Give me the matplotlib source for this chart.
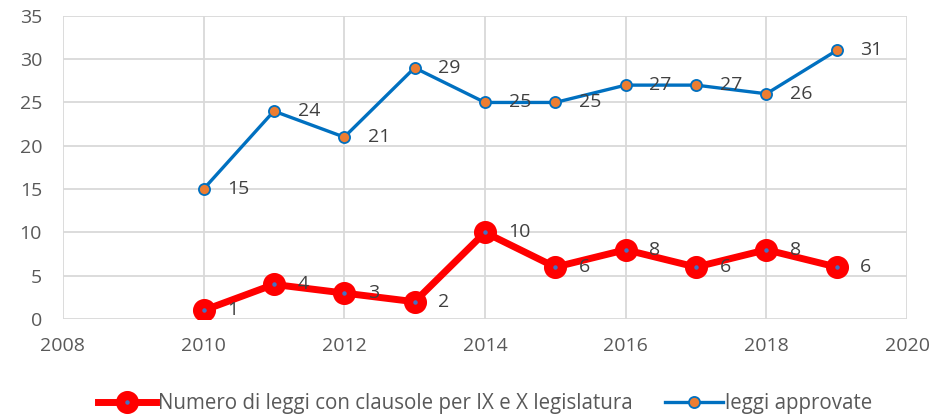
import matplotlib.pyplot as plt

years = [2010, 2011, 2012, 2013, 2014, 2015, 2016, 2017, 2018, 2019]
clausole = [1, 4, 3, 2, 10, 6, 8, 6, 8, 6]
approvate = [15, 24, 21, 29, 25, 25, 27, 27, 26, 31]

plt.rcParams['font.family'] = ['Open Sans', 'DejaVu Sans']
txt = '#404040'

fig = plt.figure(figsize=(9.38, 4.16), dpi=100)
ax = fig.add_axes([0.067, 0.233, 0.90, 0.729])

ax.plot(years, clausole, color='#ff0000', lw=5, marker='o', ms=10,
        mfc='#4472c4', mec='#ff0000', mew=6.6,
        label='Numero di leggi con clausole per IX e X legislatura', zorder=3)
ax.plot(years, approvate, color='#0070c0', lw=2.4, marker='o', ms=8,
        mfc='#ed7d31', mec='#0070c0', mew=1.3,
        label='leggi approvate', zorder=3)

# etichette dei valori a destra dei punti
for x, y in zip(years, clausole):
    ax.annotate(str(y), (x, y), xytext=(17, 0), textcoords='offset points',
                ha='left', va='center', fontsize=14, color=txt)
for x, y in zip(years, approvate):
    ax.annotate(str(y), (x, y), xytext=(17, 0), textcoords='offset points',
                ha='left', va='center', fontsize=14, color=txt)

ax.set_xlim(2008, 2020)
ax.set_ylim(0, 35)
ax.set_xticks(range(2008, 2021, 2))
ax.set_yticks(range(0, 36, 5))
ax.grid(True, color='#d9d9d9', lw=1.3)
ax.set_axisbelow(True)
for s in ax.spines.values():
    s.set_visible(False)
ax.tick_params(length=0, labelsize=14, colors='#595959')
ax.tick_params(axis='x', pad=13)
ax.tick_params(axis='y', pad=15)

ax.legend(loc='center', bbox_to_anchor=(0.5, -0.28), ncol=2, frameon=False,
          fontsize=14.8, labelcolor='#595959', handlelength=2.8, handletextpad=0.1,
          columnspacing=1.6)

fig.savefig('out.png', dpi=100)
